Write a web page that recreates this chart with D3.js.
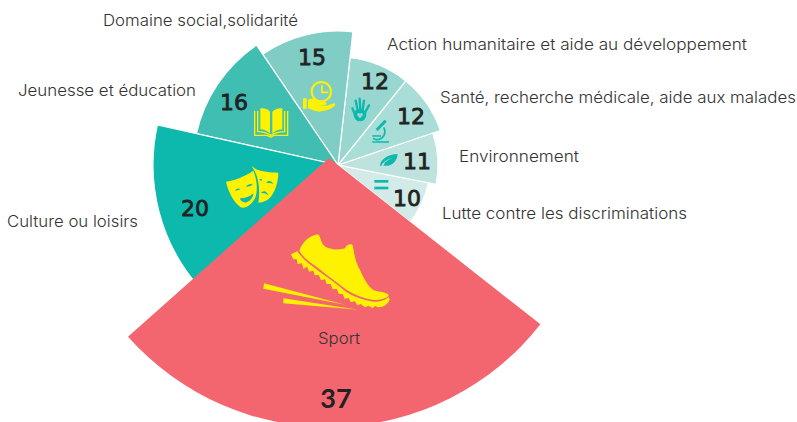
<!DOCTYPE html>
<html><head><meta charset="utf-8">
<script src="https://cdn.jsdelivr.net/npm/d3@7"></script>
<style>html,body{margin:0;padding:0;background:#fff;overflow:hidden}svg{display:block}</style>
</head><body><svg id="c" width="797" height="422"></svg>
<script>
const categories=["Sport","Culture ou loisirs","Jeunesse et éducation","Domaine social,solidarité","Action humanitaire et aide au développement","Santé, recherche médicale, aide aux malades","Environnement","Lutte contre les discriminations"];
const values=[37,20,16,15,12,12,11,10];
const colors=["#F4666F","#0DB9AC","#40BEB2","#7FCDC5","#98D6D0","#A9DDD8","#BEE3DF","#D2EBE8"];
// layout, apart from the data
const labelX=[318,7,18,103,387,440,459,442], labelY=[344,227,96,26,50,103,162,219], labelW=[42,131,178,195,360,356,120,245];
const numX=[336,195,234,312,375,411,417,407], numY=[408,216,110,65,89,124,169,206];

const svg=d3.select("#c");
const center=[338,165], sportCenter=[329,158];
const radius=d3.scaleLinear().domain([10,11,12,15,16,20,37]).range([92,100,108,134,145,185,269]);
const start=128.2*Math.PI/180;
const pie=d3.pie().sort(null).startAngle(start).endAngle(start+2*Math.PI);
const arcs=pie(values);
const arc=d3.arc().innerRadius(0).outerRadius(d=>radius(d.value));
const order=d3.range(values.length).reverse();
svg.selectAll("path.w").data(order).join("path").attr("class","w")
  .attr("transform",i=>`translate(${i===0?sportCenter:center})`)
  .attr("d",i=>arc(arcs[i])).attr("fill",i=>colors[i])
  .attr("stroke",i=>i===0?"none":"#fff").attr("stroke-width",1.2);

const Y="#FFF200",T="#0DB9AC";
function icon(x,y){return svg.append("g").attr("transform",`translate(${x},${y}) scale(${1/3})`);}
// shoe
let g=icon(240,220);
g.append("path").attr("fill",Y).attr("d","M178,92C185,70 205,48 232,43C242,45 240,62 250,75C262,88 295,92 315,85C318,72 335,70 338,75C342,95 345,125 360,150C372,175 385,205 405,212C425,216 442,218 446,225C445,232 430,240 400,240C370,235 345,225 320,210C295,190 265,170 235,145C212,128 190,115 178,92Z");
g.append("path").attr("fill",Y).attr("d","M153,103L172,94C190,120 210,133 232,150C262,172 292,193 318,215C345,232 372,240 400,245C420,245 438,240 445,230L449,238C445,252 432,262 415,262L405,258L398,264L385,257L375,262L362,252L352,256L345,244L332,246L326,234L314,236L308,222L297,222L290,207L278,208L272,192L260,192L255,178L243,180L236,165L224,166L220,152L207,155L202,140L190,146L186,130L173,132L170,118L160,118Z");
g.append("path").attr("fill",Y).attr("d","M72,190L315,254L70,206ZM130,235L355,269L130,250Z");
// masks
g=icon(220,160);
g.append("path").attr("fill",Y).attr("d","M95,18L108,28C125,35 150,38 175,38C175,65 165,100 145,118C135,125 125,128 115,128C120,100 118,60 105,35Z");
g.append("path").attr("fill",T).attr("d","M101,28C112,55 118,95 112,128L105,135L95,60Z");
g.append("path").attr("fill",Y).attr("d","M18,65C40,62 75,50 100,32C110,55 115,90 105,115C95,135 75,148 62,142C40,125 25,95 18,65Z");
g.append("path").attr("fill",T).attr("d","M44,92C50,84 58,84 62,88C56,90 50,92 44,92ZM78,80C84,72 94,70 98,74C92,78 84,80 78,80ZM60,115C75,115 90,110 100,100C100,115 85,130 72,127C65,125 60,120 60,115Z");
g.append("path").attr("fill",T).attr("d","M138,68C144,60 155,62 160,72C152,68 146,68 138,68ZM122,100C130,90 140,92 146,108C138,100 130,98 122,100ZM118,58L126,56L124,64Z");
// book
g=icon(248,75);
g.append("path").attr("fill",Y).attr("d","M37,100C50,98 60,103 66,110L66,175C58,168 48,163 37,163ZM73,110C80,103 92,98 103,100L103,163C90,163 80,170 73,175Z");
g.append("path").attr("fill","none").attr("stroke",Y).attr("stroke-width",4).attr("d","M29,108L29,170C45,170 58,174 68,181C80,174 95,170 110,170L110,108M20,108L20,181L58,181L68,187L78,181L119,181L119,108");
// clock in hand
g=icon(248,75);
g.append("circle").attr("cx",220).attr("cy",50).attr("r",29).attr("fill","none").attr("stroke",Y).attr("stroke-width",6);
g.append("path").attr("fill","none").attr("stroke",Y).attr("stroke-width",5).attr("d","M222,30L222,52L241,52");
g.append("path").attr("fill",Y).attr("d","M165,70L176,70L176,101L165,101ZM180,74C190,68 205,72 215,78L232,80C238,84 236,90 228,90L210,90L235,92L258,85C264,85 262,92 255,97C240,108 215,112 200,107L180,100Z");
// hand
g=icon(345,90);
g.append("path").attr("fill","none").attr("stroke",T).attr("stroke-width",7).attr("stroke-linecap","round").attr("d","M22,55L32,78M32,32L38,60M44,26L46,60M57,32L53,60M72,46L60,68");
g.append("circle").attr("cx",45).attr("cy",75).attr("r",19).attr("fill",T);
g.append("path").attr("fill","#98D6D0").attr("d","M45,85C38,78 34,74 38,70C41,68 44,69 45,72C46,69 50,68 52,70C56,74 52,78 45,85Z");
// microscope
g=icon(345,90);
g.append("path").attr("fill","none").attr("stroke",T).attr("stroke-width",9).attr("d","M95,120L122,92");
g.append("path").attr("fill","none").attr("stroke",T).attr("stroke-width",5).attr("d","M82,156L132,156M82,138L108,138M116,112A24,24 0 0 1 102,148C95,150 88,148 84,145");
// leaf
g=icon(365,145);
g.append("path").attr("fill",T).attr("d","M45,62C46,42 70,28 98,27C96,50 80,66 55,62L60,52C68,46 74,42 82,38C72,41 60,47 52,56L48,64Z");
// equals
g.append("rect").attr("x",28).attr("y",105).attr("width",42).attr("height",8).attr("fill",T);
g.append("rect").attr("x",28).attr("y",125).attr("width",42).attr("height",8).attr("fill",T);

svg.selectAll("text.l").data(categories).join("text").attr("class","l")
  .attr("x",(d,i)=>labelX[i]).attr("y",(d,i)=>labelY[i])
  .attr("textLength",(d,i)=>labelW[i]).attr("lengthAdjust","spacingAndGlyphs")
  .attr("font-family","Inter").attr("font-weight",300).attr("font-size",15.5).attr("fill","#333").text(d=>d);
svg.selectAll("text.n").data(values).join("text").attr("class","n")
  .attr("x",(d,i)=>numX[i]).attr("y",(d,i)=>numY[i]).attr("text-anchor","middle")
  .attr("font-family",(d,i)=>i===0?"Lato":"DejaVu Sans").attr("font-weight",(d,i)=>i===0?700:400)
  .attr("font-size",(d,i)=>i===0?27:22)
  .attr("stroke",(d,i)=>i===0?"none":"#222").attr("stroke-width",.8)
  .attr("fill","#222").text(d=>d);
</script></body></html>
